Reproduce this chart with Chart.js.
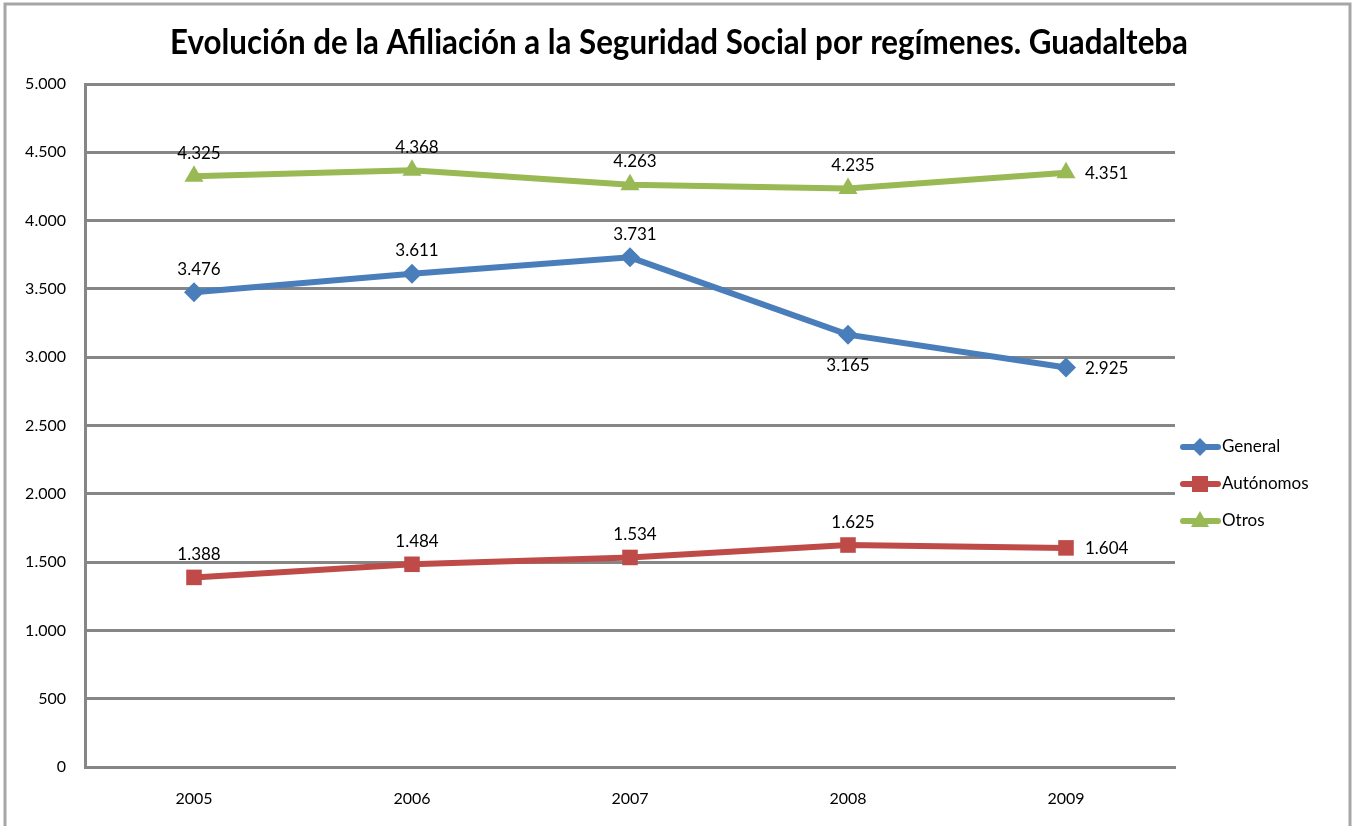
<!DOCTYPE html>
<html lang="es">
<head>
  <meta charset="UTF-8">
  <title>Evolución de la Afiliación a la Seguridad Social por regímenes. Guadalteba</title>
  <script src="https://cdn.jsdelivr.net/npm/chart.js"></script>
  <style>
    body {
      margin: 0;
      background: white;
      overflow: hidden;
    }
  </style>
</head>
<body>
  <canvas id="grafico" width="1356" height="826"></canvas>

  <script>
    // datos
    const anios = ['2005', '2006', '2007', '2008', '2009'];
    const general = [3476, 3611, 3731, 3165, 2925];
    const autonomos = [1388, 1484, 1534, 1625, 1604];
    const otros = [4325, 4368, 4263, 4235, 4351];
    const ejeMax = 5000;
    const ejePaso = 500;

    // dónde va cada etiqueta respecto al punto
    const posGeneral = ['above', 'above', 'above', 'below', 'right'];
    const posAutonomos = ['above', 'above', 'above', 'above', 'right'];
    const posOtros = ['above', 'above', 'above', 'above', 'right'];

    const titulo = 'Evolución de la Afiliación a la Seguridad Social por regímenes. Guadalteba';

    const FUENTE = 'Lato, "Open Sans", sans-serif';
    const GRIS = '#868686';

    function fmt(n) {
      return String(n).replace(/\B(?=(\d{3})+(?!\d))/g, '.');
    }

    function marcador(ctx, tipo, x, y, color) {
      ctx.save();
      ctx.fillStyle = color;
      ctx.beginPath();
      if (tipo === 'rectRot') {
        ctx.moveTo(x, y - 9); ctx.lineTo(x + 9, y); ctx.lineTo(x, y + 9); ctx.lineTo(x - 9, y);
      } else if (tipo === 'rect') {
        ctx.rect(x - 8, y - 8, 16, 16);
      } else {
        ctx.moveTo(x, y - 10); ctx.lineTo(x + 9, y + 6); ctx.lineTo(x - 9, y + 6);
      }
      ctx.closePath();
      ctx.fill();
      ctx.restore();
    }

    // marco exterior y título centrado en todo el lienzo
    const marco = {
      id: 'marco',
      beforeDraw(chart) {
        const ctx = chart.ctx;
        ctx.save();
        ctx.strokeStyle = '#a6a6a6';
        ctx.lineWidth = 3;
        ctx.strokeRect(5, 4, 1345, 900);

        ctx.font = 'bold 34px ' + FUENTE;
        ctx.fillStyle = '#000';
        ctx.textAlign = 'center';
        ctx.textBaseline = 'middle';
        const w = ctx.measureText(titulo).width;
        const k = 1018 / w;
        ctx.translate(679, 43);
        ctx.scale(k, 1);
        ctx.fillText(titulo, 0, 0);
        ctx.restore();
      }
    };

    const etiquetas = {
      id: 'etiquetas',
      afterDatasetsDraw(chart) {
        const ctx = chart.ctx;
        ctx.save();
        ctx.font = '17px ' + FUENTE;
        ctx.fillStyle = '#000';
        ctx.textBaseline = 'middle';
        chart.data.datasets.forEach((ds, i) => {
          const meta = chart.getDatasetMeta(i);
          meta.data.forEach((p, j) => {
            const pos = ds.posiciones[j];
            const txt = fmt(ds.data[j]);
            if (pos === 'right') {
              ctx.textAlign = 'left';
              ctx.fillText(txt, p.x + 19, p.y + 1);
            } else if (pos === 'below') {
              ctx.textAlign = 'center';
              ctx.fillText(txt, p.x, p.y + 31);
            } else {
              ctx.textAlign = 'center';
              ctx.fillText(txt, p.x + 5, p.y - 23);
            }
          });
        });
        ctx.restore();
      }
    };

    const leyenda = {
      id: 'leyenda',
      afterDraw(chart) {
        const ctx = chart.ctx;
        ctx.save();
        ctx.font = '17px ' + FUENTE;
        ctx.textAlign = 'left';
        ctx.textBaseline = 'middle';
        chart.data.datasets.forEach((ds, i) => {
          const y = 447 + i * 37;
          ctx.strokeStyle = ds.borderColor;
          ctx.lineWidth = 6;
          ctx.lineCap = 'round';
          ctx.beginPath();
          ctx.moveTo(1183, y);
          ctx.lineTo(1218, y);
          ctx.stroke();
          marcador(ctx, ds.pointStyle, 1200, y, ds.borderColor);
          ctx.fillStyle = '#000';
          ctx.fillText(ds.label, 1222, y);
        });
        ctx.restore();
      }
    };

    function serie(label, data, color, estilo, radio, posiciones) {
      return {
        label: label,
        data: data,
        borderColor: color,
        backgroundColor: color,
        borderWidth: 6,
        pointStyle: estilo,
        pointRadius: radio,
        pointHoverRadius: radio,
        pointBorderWidth: 0,
        tension: 0,
        posiciones: posiciones
      };
    }

    const ctx = document.getElementById('grafico').getContext('2d');

    new Chart(ctx, {
      type: 'line',
      data: {
        labels: anios,
        datasets: [
          serie('General', general, '#4A7EBB', 'rectRot', 10, posGeneral),
          serie('Autónomos', autonomos, '#BE4B48', 'rect', 11, posAutonomos),
          serie('Otros', otros, '#98B954', 'triangle', 11, posOtros)
        ]
      },
      options: {
        responsive: false,
        animation: false,
        layout: {
          padding: { left: 0, right: 181, top: 84, bottom: 0 }
        },
        plugins: {
          legend: { display: false },
          tooltip: { enabled: false },
          title: { display: false }
        },
        scales: {
          x: {
            offset: true,
            grid: { display: false, drawTicks: false },
            border: { display: true, color: GRIS, width: 3 },
            ticks: {
              color: '#000',
              font: { family: FUENTE, size: 16 },
              padding: 22,
              maxRotation: 0
            },
            afterFit(s) { s.height = 59; }
          },
          y: {
            min: 0,
            max: ejeMax,
            grid: { color: GRIS, lineWidth: 3, drawTicks: false },
            border: { display: true, color: GRIS, width: 3 },
            ticks: {
              stepSize: ejePaso,
              color: '#000',
              font: { family: FUENTE, size: 16 },
              padding: 19,
              callback: (v) => fmt(v)
            },
            afterFit(s) { s.width = 85; }
          }
        }
      },
      plugins: [marco, etiquetas, leyenda]
    });
  </script>
</body>
</html>
